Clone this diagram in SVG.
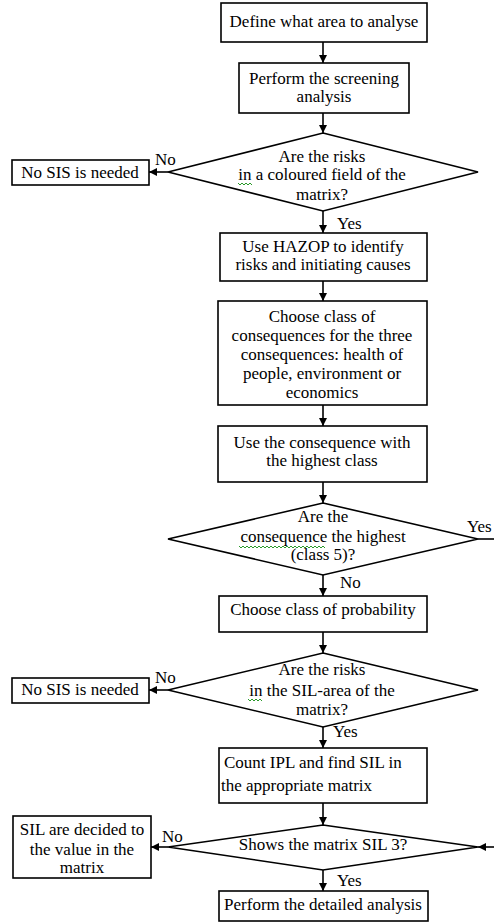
<svg xmlns="http://www.w3.org/2000/svg" width="494" height="922" viewBox="0 0 494 922">
<style>
text{font-family:"Liberation Serif","Times New Roman",serif;font-size:17px;fill:#000}
.c{text-anchor:middle}
.b{fill:#fff;stroke:#000;stroke-width:1.6}
.l{stroke:#000;stroke-width:1.6;fill:none}
.sq{stroke:#2a9a2a;stroke-width:1;fill:none}
</style>
<defs>
<marker id="ah" markerUnits="userSpaceOnUse" markerWidth="9" markerHeight="9" refX="8" refY="4" orient="auto">
<path d="M0,0 L8,4 L0,8 z" fill="#000"/>
</marker>
</defs>
<rect width="494" height="922" fill="#fff"/>
<g id="connectors">
<line class="l" x1="323" y1="42" x2="323" y2="63" marker-end="url(#ah)"/>
<line class="l" x1="323" y1="113" x2="323" y2="133" marker-end="url(#ah)"/>
<line class="l" x1="168" y1="172" x2="149" y2="172" marker-end="url(#ah)"/>
<line class="l" x1="323" y1="211" x2="323" y2="233" marker-end="url(#ah)"/>
<line class="l" x1="323" y1="281" x2="323" y2="301" marker-end="url(#ah)"/>
<line class="l" x1="323" y1="405" x2="323" y2="426" marker-end="url(#ah)"/>
<line class="l" x1="323" y1="482" x2="323" y2="503" marker-end="url(#ah)"/>
<line class="l" x1="478" y1="539" x2="494" y2="539"/>
<line class="l" x1="323" y1="575" x2="323" y2="596" marker-end="url(#ah)"/>
<line class="l" x1="323" y1="632" x2="323" y2="653" marker-end="url(#ah)"/>
<line class="l" x1="168" y1="690" x2="149" y2="690" marker-end="url(#ah)"/>
<line class="l" x1="323" y1="727" x2="323" y2="748" marker-end="url(#ah)"/>
<line class="l" x1="323" y1="803" x2="323" y2="825" marker-end="url(#ah)"/>
<line class="l" x1="168" y1="847" x2="151" y2="847" marker-end="url(#ah)"/>
<line class="l" x1="494" y1="847" x2="478" y2="847" marker-end="url(#ah)"/>
<line class="l" x1="323" y1="870" x2="323" y2="891" marker-end="url(#ah)"/>
<text x="155" y="165">No</text>
<text x="337" y="229">Yes</text>
<text x="467" y="532">Yes</text>
<text x="340" y="588">No</text>
<text x="155" y="683">No</text>
<text x="333" y="737">Yes</text>
<text x="162" y="842">No</text>
<text x="337" y="886">Yes</text>
</g>
<g id="n1">
<rect class="b" x="221" y="3" width="206" height="39"/>
<text class="c" x="324" y="27">Define what area to analyse</text>
</g>
<g id="n2">
<rect class="b" x="239" y="63" width="170" height="50"/>
<text class="c" x="324" y="84">Perform the screening</text>
<text class="c" x="324" y="102">analysis</text>
</g>
<g id="d1">
<polygon class="b" points="323,133 478,172 323,211 168,172"/>
<text class="c" x="322" y="162">Are the risks</text>
<text class="c" x="322" y="180">in a coloured field of the</text>
<text class="c" x="322" y="200">matrix?</text>
<path class="sq" d="M238,183 l2,2 l2,-2 l2,2 l2,-2 l2,2 l2,-2 l2,2"/>
</g>
<g id="n3">
<rect class="b" x="12" y="160" width="137" height="25"/>
<text class="c" x="80" y="178">No SIS is needed</text>
</g>
<g id="n4">
<rect class="b" x="220" y="233" width="207" height="48"/>
<text class="c" x="323" y="252">Use HAZOP to identify</text>
<text class="c" x="323" y="270">risks and initiating causes</text>
</g>
<g id="n5">
<rect class="b" x="218" y="301" width="209" height="104"/>
<text class="c" x="322" y="322">Choose class of</text>
<text class="c" x="322" y="341">consequences for the three</text>
<text class="c" x="322" y="360">consequences: health of</text>
<text class="c" x="322" y="379">people, environment or</text>
<text class="c" x="322" y="398">economics</text>
</g>
<g id="n6">
<rect class="b" x="218" y="426" width="209" height="56"/>
<text class="c" x="322" y="448">Use the consequence with</text>
<text class="c" x="322" y="466">the highest class</text>
</g>
<g id="d2">
<polygon class="b" points="323,503 478,539 323,575 168,539"/>
<text class="c" x="323" y="522">Are the</text>
<text class="c" x="323" y="542">consequence the highest</text>
<text class="c" x="323" y="560">(class 5)?</text>
<path class="sq" d="M239,546 l2,2 l2,-2 l2,2 l2,-2 l2,2 l2,-2 l2,2 l2,-2 l2,2 l2,-2 l2,2 l2,-2 l2,2 l2,-2 l2,2 l2,-2 l2,2 l2,-2 l2,2 l2,-2 l2,2 l2,-2 l2,2 l2,-2 l2,2 l2,-2 l2,2 l2,-2 l2,2 l2,-2 l2,2 l2,-2 l2,2 l2,-2 l2,2 l2,-2 l2,2 l2,-2 l2,2 l2,-2 l2,2 l2,-2 l2,2"/>
</g>
<g id="n7">
<rect class="b" x="219" y="596" width="208" height="36"/>
<text class="c" x="323" y="615">Choose class of probability</text>
</g>
<g id="d3">
<polygon class="b" points="323,653 478,690 323,727 168,690"/>
<text class="c" x="322" y="675">Are the risks</text>
<text class="c" x="322" y="696">in the SIL-area of the</text>
<text class="c" x="322" y="715">matrix?</text>
<path class="sq" d="M248,699 l2,2 l2,-2 l2,2 l2,-2 l2,2 l2,-2 l2,2"/>
</g>
<g id="n8">
<rect class="b" x="12" y="678" width="137" height="25"/>
<text class="c" x="80" y="695">No SIS is needed</text>
</g>
<g id="n9">
<rect class="b" x="219" y="748" width="208" height="55"/>
<text x="224" y="768">Count IPL and find SIL in</text>
<text x="221" y="791">the appropriate matrix</text>
</g>
<g id="d4">
<polygon class="b" points="323,825 478,847 323,870 168,847"/>
<text class="c" x="323" y="850">Shows the matrix SIL 3?</text>
</g>
<g id="n10">
<rect class="b" x="13" y="816" width="138" height="62"/>
<text class="c" x="82" y="835">SIL are decided to</text>
<text class="c" x="82" y="855">the value in the</text>
<text class="c" x="82" y="873">matrix</text>
</g>
<g id="n11">
<rect class="b" x="219" y="891" width="209" height="30"/>
<text class="c" x="323" y="910">Perform the detailed analysis</text>
</g>
</svg>
